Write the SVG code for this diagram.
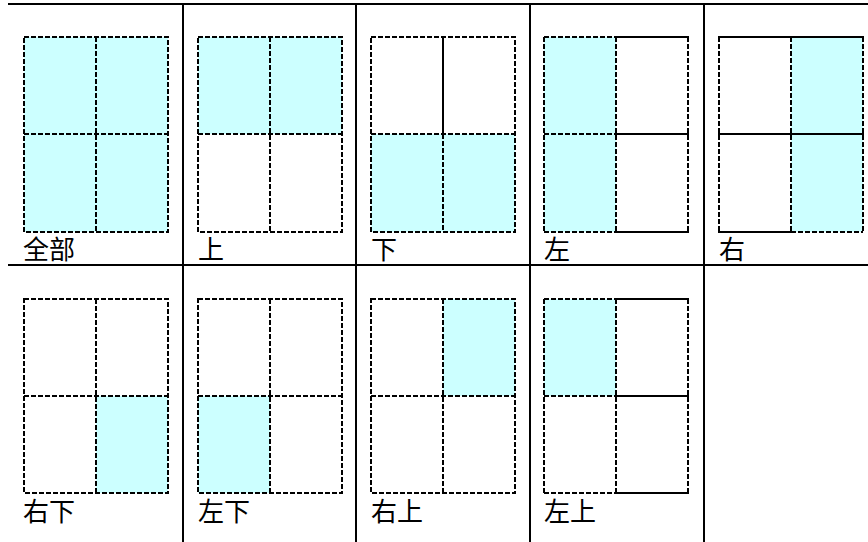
<svg xmlns="http://www.w3.org/2000/svg" width="868" height="542" viewBox="0 0 868 542">
<style>
.bg{fill:#ffffff}
.f{fill:#ccffff;stroke:none}
.d{fill:none;stroke:#000;stroke-width:2;stroke-dasharray:5 2}
.s{fill:none;stroke:#000;stroke-width:2}
.t{fill:none;stroke:#000;stroke-width:2}
.lb{font-family:"Noto Sans CJK SC","Noto Sans CJK JP",sans-serif;font-size:26px;fill:#000}
</style>
<rect class="bg" x="0" y="0" width="868" height="542"/>
<g id="table">
<line class="t" x1="8" y1="4" x2="868" y2="4"/>
<line class="t" x1="8" y1="265" x2="868" y2="265"/>
<line class="t" x1="183" y1="4" x2="183" y2="542"/>
<line class="t" x1="356" y1="4" x2="356" y2="542"/>
<line class="t" x1="530" y1="4" x2="530" y2="542"/>
<line class="t" x1="704" y1="4" x2="704" y2="542"/>
</g>
<g id="connectors"></g>

<g id="panel-all" transform="translate(24,37)">
<rect class="f" x="0" y="0" width="144" height="195"/>
<rect class="d" x="0" y="0" width="144" height="195"/>
<line class="d" x1="72" y1="0" x2="72" y2="195"/>
<line class="d" x1="0" y1="97" x2="144" y2="97"/>
<text class="lb" x="-1" y="222">全部</text>
</g>

<g id="panel-top" transform="translate(198,37)">
<rect class="f" x="0" y="0" width="144" height="97"/>
<rect class="d" x="0" y="0" width="144" height="195"/>
<line class="d" x1="72" y1="0" x2="72" y2="195"/>
<line class="d" x1="0" y1="97" x2="144" y2="97"/>
<text class="lb" x="0" y="222">上</text>
</g>

<g id="panel-bottom" transform="translate(371,37)">
<rect class="f" x="0" y="97" width="144" height="98"/>
<rect class="d" x="0" y="0" width="144" height="195"/>
<line class="s" x1="72" y1="0" x2="72" y2="97"/>
<line class="d" x1="72" y1="97" x2="72" y2="195"/>
<line class="d" x1="0" y1="97" x2="144" y2="97"/>
<text class="lb" x="0" y="222">下</text>
</g>

<g id="panel-left" transform="translate(544,37)">
<rect class="f" x="0" y="0" width="72" height="195"/>
<line class="d" x1="0" y1="0" x2="72" y2="0"/>
<line class="d" x1="0" y1="97" x2="72" y2="97"/>
<line class="d" x1="0" y1="195" x2="72" y2="195"/>
<line class="s" x1="72" y1="0" x2="145" y2="0"/>
<line class="s" x1="72" y1="97" x2="145" y2="97"/>
<line class="s" x1="72" y1="195" x2="145" y2="195"/>
<line class="d" x1="0" y1="0" x2="0" y2="195"/>
<line class="d" x1="72" y1="0" x2="72" y2="195"/>
<line class="d" x1="144" y1="0" x2="144" y2="195"/>
<text class="lb" x="0" y="222">左</text>
</g>

<g id="panel-right" transform="translate(719,37)">
<rect class="f" x="72" y="0" width="72" height="195"/>
<line class="s" x1="-1" y1="0" x2="145" y2="0"/>
<line class="s" x1="-1" y1="97" x2="145" y2="97"/>
<line class="s" x1="-1" y1="195" x2="72" y2="195"/>
<line class="d" x1="72" y1="195" x2="144" y2="195"/>
<line class="d" x1="0" y1="0" x2="0" y2="195"/>
<line class="d" x1="72" y1="0" x2="72" y2="195"/>
<line class="d" x1="144" y1="0" x2="144" y2="195"/>
<text class="lb" x="0" y="222">右</text>
</g>

<g id="panel-bottom-right" transform="translate(24,299)">
<rect class="f" x="72" y="97" width="72" height="97"/>
<rect class="d" x="0" y="0" width="144" height="194"/>
<line class="d" x1="72" y1="0" x2="72" y2="194"/>
<line class="d" x1="0" y1="97" x2="144" y2="97"/>
<text class="lb" x="-1" y="222">右下</text>
</g>

<g id="panel-bottom-left" transform="translate(198,299)">
<rect class="f" x="0" y="97" width="72" height="97"/>
<rect class="d" x="0" y="0" width="144" height="194"/>
<line class="d" x1="72" y1="0" x2="72" y2="194"/>
<line class="d" x1="0" y1="97" x2="144" y2="97"/>
<text class="lb" x="0" y="222">左下</text>
</g>

<g id="panel-top-right" transform="translate(371,299)">
<rect class="f" x="72" y="0" width="72" height="97"/>
<rect class="d" x="0" y="0" width="144" height="194"/>
<line class="d" x1="72" y1="0" x2="72" y2="194"/>
<line class="d" x1="0" y1="97" x2="144" y2="97"/>
<text class="lb" x="0" y="222">右上</text>
</g>

<g id="panel-top-left" transform="translate(544,299)">
<rect class="f" x="0" y="0" width="72" height="97"/>
<line class="d" x1="0" y1="0" x2="72" y2="0"/>
<line class="d" x1="0" y1="97" x2="72" y2="97"/>
<line class="d" x1="0" y1="194" x2="72" y2="194"/>
<line class="s" x1="72" y1="0" x2="145" y2="0"/>
<line class="s" x1="72" y1="97" x2="145" y2="97"/>
<line class="s" x1="72" y1="194" x2="145" y2="194"/>
<line class="d" x1="0" y1="0" x2="0" y2="194"/>
<line class="d" x1="72" y1="0" x2="72" y2="194"/>
<line class="d" x1="144" y1="0" x2="144" y2="194"/>
<text class="lb" x="0" y="222">左上</text>
</g>
</svg>
